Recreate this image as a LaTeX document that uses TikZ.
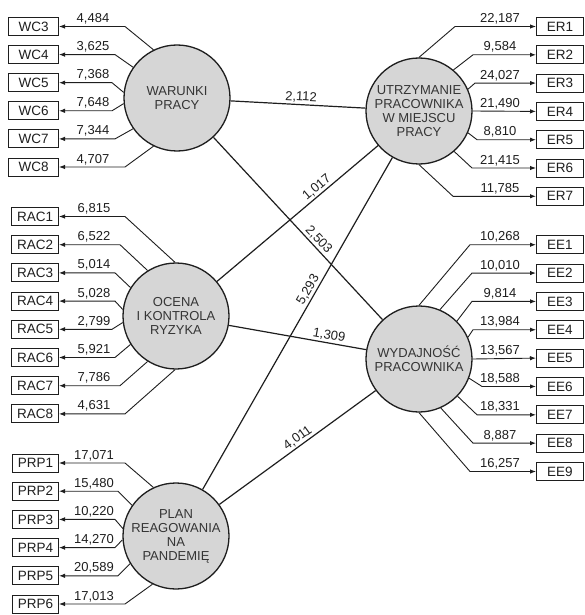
\documentclass[tikz,border=0pt]{standalone}
\usepackage{fontspec}
\setmainfont{Liberation Sans}
\usetikzlibrary{arrows.meta}
\definecolor{lvfill}{RGB}{214,214,214}
\definecolor{ink}{RGB}{30,30,30}
\begin{document}
\begin{tikzpicture}[x=1pt,y=-1pt,
  lv/.style={circle,draw=ink,line width=1.3pt,fill=lvfill,minimum size=106pt,inner sep=0pt,align=center,font=\fontsize{13}{14}\selectfont,text=ink!90},
  obs/.style={draw=ink,line width=0.9pt,minimum height=18pt,inner sep=0pt,font=\fontsize{13.5}{14}\selectfont,text=ink},
  lobs/.style={obs,anchor=east,minimum width=48pt},
  robs/.style={obs,anchor=west,minimum width=47pt},
  ind/.style={draw=ink,line width=0.9pt,-{Latex[length=6pt,width=4.5pt]}},
  lbl/.style={anchor=base,inner sep=0pt,font=\fontsize{13}{14}\selectfont,text=ink},
  stru/.style={draw=ink,line width=1.2pt},
  slbl/.style={sloped,anchor=south,inner sep=1.5pt,font=\fontsize{13}{14}\selectfont,text=ink}
]
\useasboundingbox (0,0) rectangle (584,615);

% latent variables
\node[lv] (war) at (177,98) {WARUNKI\\PRACY};
\node[lv] (utr) at (419,111) {UTRZYMANIE\\PRACOWNIKA\\W MIEJSCU\\PRACY};
\node[lv] (oce) at (176,316) {OCENA\\I KONTROLA\\RYZYKA};
\node[lv] (wyd) at (419,359) {WYDAJNOŚĆ\\PRACOWNIKA};
\node[lv] (pla) at (176,536) {PLAN\\REAGOWANIA\\NA\\PANDEMIĘ};

% structural paths
\draw[stru] (war) -- node[slbl,pos=0.52] (p1) {2,112} (utr);
\draw[stru] (war) -- node[slbl,pos=0.59] (p2) {2,503} (wyd);
\draw[stru] (oce) -- node[slbl,pos=0.65] (p3) {1,017} (utr);
\draw[stru] (oce) -- node[slbl,pos=0.72] (p4) {1,309} (wyd);
\draw[stru] (pla) -- node[slbl,pos=0.59] (p5) {5,293} (utr);
\draw[stru] (pla) -- node[slbl,pos=0.53] (p6) {4,011} (wyd);

% WC indicators
\node[lobs,minimum width=50pt] (wc3) at (59,26.5) {WC3};
\node[lobs,minimum width=50pt] (wc4) at (59,54.6) {WC4};
\node[lobs,minimum width=50pt] (wc5) at (59,82.7) {WC5};
\node[lobs,minimum width=50pt] (wc6) at (59,110.8) {WC6};
\node[lobs,minimum width=50pt] (wc7) at (59,138.9) {WC7};
\node[lobs,minimum width=50pt] (wc8) at (59,167) {WC8};
\draw[ind] (war.116) -- (125,26.5) -- (wc3.east);
\draw[ind] (war.145) -- (115,54.6) -- (wc4.east);
\draw[ind] (war.174) -- (112,82.7) -- (wc5.east);
\draw[ind] (war.186) -- (112,110.8) -- (wc6.east);
\draw[ind] (war.215) -- (115,138.9) -- (wc7.east);
\draw[ind] (war.244) -- (125,167) -- (wc8.east);
\node[lbl] (lwc3) at (93,22.5) {4,484};
\node[lbl] (lwc4) at (93,50.6) {3,625};
\node[lbl] (lwc5) at (93,78.7) {7,368};
\node[lbl] (lwc6) at (93,106.8) {7,648};
\node[lbl] (lwc7) at (93,134.9) {7,344};
\node[lbl] (lwc8) at (93,163) {4,707};

% RAC indicators
\node[lobs,minimum width=47pt] (rac1) at (59,216.5) {RAC1};
\node[lobs,minimum width=47pt] (rac2) at (59,244.7) {RAC2};
\node[lobs,minimum width=47pt] (rac3) at (59,272.9) {RAC3};
\node[lobs,minimum width=47pt] (rac4) at (59,301.1) {RAC4};
\node[lobs,minimum width=47pt] (rac5) at (59,329.3) {RAC5};
\node[lobs,minimum width=47pt] (rac6) at (59,357.5) {RAC6};
\node[lobs,minimum width=47pt] (rac7) at (59,385.7) {RAC7};
\node[lobs,minimum width=47pt] (rac8) at (59,413.9) {RAC8};
\draw[ind] (oce.91) -- (125,216.5) -- (rac1.east);
\draw[ind] (oce.122) -- (120,244.7) -- (rac2.east);
\draw[ind] (oce.148) -- (115,272.9) -- (rac3.east);
\draw[ind] (oce.173) -- (115,301.1) -- (rac4.east);
\draw[ind] (oce.187) -- (112,329.3) -- (rac5.east);
\draw[ind] (oce.212) -- (115,357.5) -- (rac6.east);
\draw[ind] (oce.238) -- (120,385.7) -- (rac7.east);
\draw[ind] (oce.269) -- (125,413.9) -- (rac8.east);
\node[lbl] (lrac1) at (94,212.5) {6,815};
\node[lbl] (lrac2) at (94,240.7) {6,522};
\node[lbl] (lrac3) at (94,268.9) {5,014};
\node[lbl] (lrac4) at (94,297.1) {5,028};
\node[lbl] (lrac5) at (94,325.3) {2,799};
\node[lbl] (lrac6) at (94,353.5) {5,921};
\node[lbl] (lrac7) at (94,381.7) {7,786};
\node[lbl] (lrac8) at (94,409.9) {4,631};

% PRP indicators
\node[lobs,minimum width=46pt] (prp1) at (59,463) {PRP1};
\node[lobs,minimum width=46pt] (prp2) at (59,491.2) {PRP2};
\node[lobs,minimum width=46pt] (prp3) at (59,519.4) {PRP3};
\node[lobs,minimum width=46pt] (prp4) at (59,547.6) {PRP4};
\node[lobs,minimum width=46pt] (prp5) at (59,575.8) {PRP5};
\node[lobs,minimum width=46pt] (prp6) at (59,604) {PRP6};
\draw[ind] (pla.115) -- (125,463) -- (prp1.east);
\draw[ind] (pla.145) -- (118,491.2) -- (prp2.east);
\draw[ind] (pla.172) -- (115,519.4) -- (prp3.east);
\draw[ind] (pla.184) -- (115,547.6) -- (prp4.east);
\draw[ind] (pla.211) -- (118,575.8) -- (prp5.east);
\draw[ind] (pla.244) -- (125,604) -- (prp6.east);
\node[lbl] (lprp1) at (94,459) {17,071};
\node[lbl] (lprp2) at (94,487.2) {15,480};
\node[lbl] (lprp3) at (94,515.4) {10,220};
\node[lbl] (lprp4) at (94,543.6) {14,270};
\node[lbl] (lprp5) at (94,571.8) {20,589};
\node[lbl] (lprp6) at (94,600) {17,013};

% ER indicators
\node[robs] (er1) at (536,26.5) {ER1};
\node[robs] (er2) at (536,54.8) {ER2};
\node[robs] (er3) at (536,83.1) {ER3};
\node[robs] (er4) at (536,111.4) {ER4};
\node[robs] (er5) at (536,139.7) {ER5};
\node[robs] (er6) at (536,168) {ER6};
\node[robs] (er7) at (536,196.3) {ER7};
\draw[ind] (utr.90) -- (455,26.5) -- (er1.west);
\draw[ind] (utr.50) -- (473,54.8) -- (er2.west);
\draw[ind] (utr.24) -- (475,83.1) -- (er3.west);
\draw[ind] (utr.east) -- (er4.west);
\draw[ind] (utr.-24) -- (477,139.7) -- (er5.west);
\draw[ind] (utr.-49) -- (472,168) -- (er6.west);
\draw[ind] (utr.-90) -- (453,196.3) -- (er7.west);
\node[lbl] (ler1) at (500,22.5) {22,187};
\node[lbl] (ler2) at (500,50.8) {9,584};
\node[lbl] (ler3) at (500,79.1) {24,027};
\node[lbl] (ler4) at (500,107.4) {21,490};
\node[lbl] (ler5) at (500,135.7) {8,810};
\node[lbl] (ler6) at (500,164) {21,415};
\node[lbl] (ler7) at (500,192.3) {11,785};

% EE indicators
\node[robs] (ee1) at (536,244.7) {EE1};
\node[robs] (ee2) at (536,273.05) {EE2};
\node[robs] (ee3) at (536,301.4) {EE3};
\node[robs] (ee4) at (536,329.75) {EE4};
\node[robs] (ee5) at (536,358.1) {EE5};
\node[robs] (ee6) at (536,386.45) {EE6};
\node[robs] (ee7) at (536,414.8) {EE7};
\node[robs] (ee8) at (536,443.15) {EE8};
\node[robs] (ee9) at (536,471.5) {EE9};
\draw[ind] (wyd.90) -- (470,244.7) -- (ee1.west);
\draw[ind] (wyd.67) -- (472,273.05) -- (ee2.west);
\draw[ind] (wyd.45) -- (472,301.4) -- (ee3.west);
\draw[ind] (wyd.24) -- (473,329.75) -- (ee4.west);
\draw[ind] (wyd.east) -- (ee5.west);
\draw[ind] (wyd.-21) -- (482,386.45) -- (ee6.west);
\draw[ind] (wyd.-44) -- (477,414.8) -- (ee7.west);
\draw[ind] (wyd.-66) -- (473,443.15) -- (ee8.west);
\draw[ind] (wyd.-90) -- (470,471.5) -- (ee9.west);
\node[lbl] (lee1) at (500,240.7) {10,268};
\node[lbl] (lee2) at (500,269.05) {10,010};
\node[lbl] (lee3) at (500,297.4) {9,814};
\node[lbl] (lee4) at (500,325.75) {13,984};
\node[lbl] (lee5) at (500,354.1) {13,567};
\node[lbl] (lee6) at (500,382.45) {18,588};
\node[lbl] (lee7) at (500,410.8) {18,331};
\node[lbl] (lee8) at (500,439.15) {8,887};
\node[lbl] (lee9) at (500,467.5) {16,257};
\end{tikzpicture}
\end{document}
